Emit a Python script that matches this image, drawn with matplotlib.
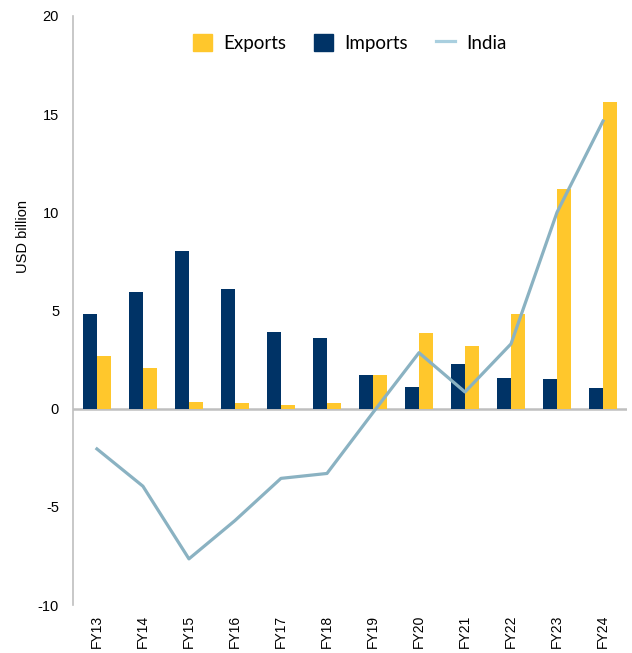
import numpy as np
import matplotlib.pyplot as plt
from matplotlib.patches import Patch
from matplotlib.lines import Line2D

years = ['FY13', 'FY14', 'FY15', 'FY16', 'FY17', 'FY18',
         'FY19', 'FY20', 'FY21', 'FY22', 'FY23', 'FY24']
imports = [4.8, 5.95, 8.05, 6.1, 3.9, 3.6, 1.7, 1.1, 2.3, 1.55, 1.5, 1.05]
exports = [2.7, 2.05, 0.35, 0.3, 0.2, 0.3, 1.7, 3.85, 3.2, 4.8, 11.2, 15.6]
india = [-2.05, -3.95, -7.65, -5.7, -3.55, -3.3, -0.2, 2.85, 0.85, 3.3, 10.0, 14.65]

navy = '#003366'
yellow = '#FFC72C'
line_c = '#8AB2C2'

plt.rcParams['font.family'] = ['Lato', 'DejaVu Sans']
plt.rcParams['axes.unicode_minus'] = False

fig = plt.figure(figsize=(6.32, 6.53), dpi=100)
ax = fig.add_axes([0.1155, 0.0735, 0.8765, 0.902])

x = np.arange(len(years))
w = 0.3
ax.bar(x - w / 2, imports, w, color=navy, zorder=2)
ax.bar(x + w / 2, exports, w, color=yellow, zorder=2)
ax.axhline(0, color='#BFBFBF', lw=1.8, zorder=1)
ax.plot(x, india, color=line_c, lw=2.3, zorder=3)

ax.set_xlim(-0.52, 11.52)
ax.set_ylim(-10, 20)
ax.set_yticks([-10, -5, 0, 5, 10, 15, 20])
ax.set_xticks(x)
ax.set_xticklabels(years, rotation=90, fontsize=10, family=['Liberation Sans'])
ax.tick_params(axis='both', length=0)
ax.tick_params(axis='y', labelsize=10.5, pad=10)
ax.tick_params(axis='x', pad=7)
for t in ax.get_yticklabels():
    t.set_family(['Liberation Sans'])

for s in ['top', 'right', 'bottom']:
    ax.spines[s].set_visible(False)
ax.spines['left'].set_color('#BFBFBF')
ax.spines['left'].set_linewidth(1.2)

ax.set_ylabel('USD billion', fontsize=10.5, family=['Liberation Sans'])
ax.yaxis.set_label_coords(-0.078, 0.625)

handles = [Patch(color=yellow), Patch(color=navy),
           Line2D([], [], color='#A9CFDF', lw=2.3)]
ax.legend(handles, ['Exports', 'Imports', 'India'], loc='upper center',
          bbox_to_anchor=(0.5, 0.998), ncol=3, frameon=False, fontsize=13.5,
          handlelength=1.0, handleheight=1.0, columnspacing=1.5, handletextpad=0.6)

fig.savefig('out.png', dpi=100)
